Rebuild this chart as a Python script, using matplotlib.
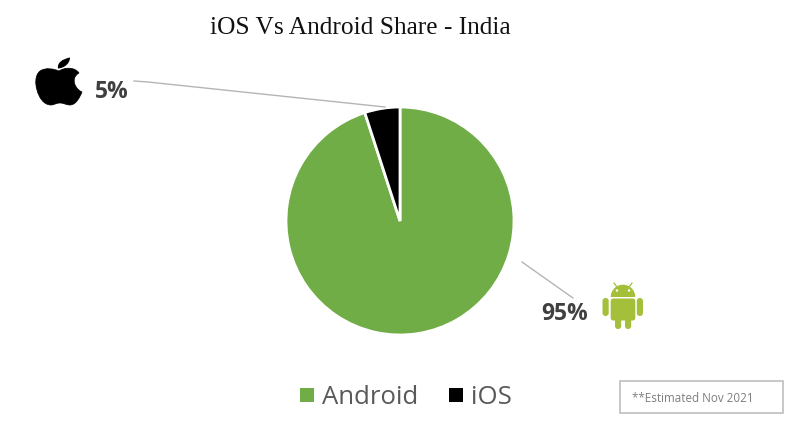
import matplotlib

matplotlib.use("Agg")
import matplotlib.pyplot as plt
from matplotlib.patches import Circle, FancyBboxPatch, PathPatch, Rectangle, Wedge
from matplotlib.path import Path

# chart data
categories = ["Android", "iOS"]
share = [95, 5]
share_labels = ["95%", "5%"]
colors = ["#70AD47", "#000000"]

title = "iOS Vs Android Share - India"
note = "**Estimated Nov 2021"

W, H = 800, 421
ANDROID_GREEN = "#A4C03A"
TEXT_DARK = "#404040"
TEXT_MID = "#595959"
LEADER = "#B5B5B5"


def draw_apple(ax):
    verts = [
        (59, 71), (54, 69), (46, 67), (40, 71),
        (35, 75), (35, 84), (37, 90),
        (39, 98), (44, 105), (51, 105),
        (54, 105), (56, 103), (60, 103),
        (64, 103), (66, 105), (70, 105),
        (76, 105), (80, 97), (82, 92),
        (75, 89), (70, 78), (79, 73),
        (75, 67), (65, 67), (59, 71),
    ]
    codes = [Path.MOVETO] + [Path.CURVE4] * 24
    ax.add_patch(PathPatch(Path(verts, codes), fc="black", ec="black", lw=0.5))
    leaf = [(58, 68.5), (57, 63), (62, 59), (70, 57.5), (70, 63), (65, 68), (58, 68.5)]
    leaf_codes = [Path.MOVETO] + [Path.CURVE4] * 6
    ax.add_patch(PathPatch(Path(leaf, leaf_codes), fc="black", ec="none"))


def draw_android(ax):
    # head
    ax.add_patch(Wedge((623, 297), 12.3, 180, 360, fc=ANDROID_GREEN, ec="none"))
    ax.add_patch(Rectangle((610.7, 296), 24.6, 1, fc=ANDROID_GREEN, ec="none"))
    # body
    ax.add_patch(FancyBboxPatch((610.7, 298.5), 24.6, 22, boxstyle="round,pad=0,rounding_size=2.5",
                                fc=ANDROID_GREEN, ec="none"))
    # arms and legs
    for x, y, w, h in [(602.5, 298, 6.2, 18), (636.8, 298, 6.2, 18),
                       (615, 316, 6.2, 13), (625, 316, 6.2, 13)]:
        ax.add_patch(FancyBboxPatch((x, y), w, h, boxstyle="round,pad=0,rounding_size=3",
                                    fc=ANDROID_GREEN, ec="none"))
    # eyes and antennae
    ax.add_patch(Circle((617, 290.5), 1.2, fc="white", ec="none"))
    ax.add_patch(Circle((629, 290.5), 1.2, fc="white", ec="none"))
    ax.plot([617, 614], [287, 283], color=ANDROID_GREEN, lw=0.9)
    ax.plot([629, 632], [287, 283], color=ANDROID_GREEN, lw=0.9)


fig = plt.figure(figsize=(W / 100, H / 100), dpi=100, facecolor="white")

# pie sits in a square axes, radius about 114 px around (400, 221)
pie_ax = fig.add_axes([(400 - 114) / W, 1 - (221 + 114) / H, 228 / W, 228 / H])
pie_ax.pie(share, colors=colors, startangle=90, counterclock=False, radius=1.0,
           wedgeprops={"edgecolor": "white", "linewidth": 2.0})
pie_ax.set_xlim(-1, 1)
pie_ax.set_ylim(-1, 1)

# overlay in pixel coordinates for labels, leaders and logos
ax = fig.add_axes([0, 0, 1, 1], zorder=3)
ax.set_xlim(0, W)
ax.set_ylim(H, 0)
ax.axis("off")

ax.text(360, 28, title, ha="center", va="center", fontsize=18.3,
        family="Liberation Serif", color="#111111")

ax.plot([134, 148, 385], [81, 82, 107], color=LEADER, lw=1)
ax.plot([522, 573], [262, 298], color=LEADER, lw=1)

ax.text(112, 92, share_labels[1], ha="center", va="center", fontsize=16.5,
        family="Open Sans", weight="bold", color=TEXT_DARK)
ax.text(564.5, 313.5, share_labels[0], ha="center", va="center", fontsize=16.5,
        family="Open Sans", weight="bold", color=TEXT_DARK)

draw_apple(ax)
draw_android(ax)

# legend
ax.add_patch(Rectangle((300, 388), 13.5, 14, fc=colors[0], ec="none"))
ax.text(322, 397, categories[0], ha="left", va="center", fontsize=18.5,
        family="Open Sans", color=TEXT_MID)
ax.add_patch(Rectangle((449, 388), 13.5, 14, fc=colors[1], ec="none"))
ax.text(471, 397, categories[1], ha="left", va="center", fontsize=18.5,
        family="Open Sans", color=TEXT_MID)

# note box
ax.add_patch(Rectangle((619.5, 381), 163.5, 32, fc="white", ec="#BFBFBF", lw=1.2))
ax.text(632, 398, note, ha="left", va="center", fontsize=8.35,
        family="Open Sans", color="#7F7F7F")

fig.savefig("out.png", dpi=100)
